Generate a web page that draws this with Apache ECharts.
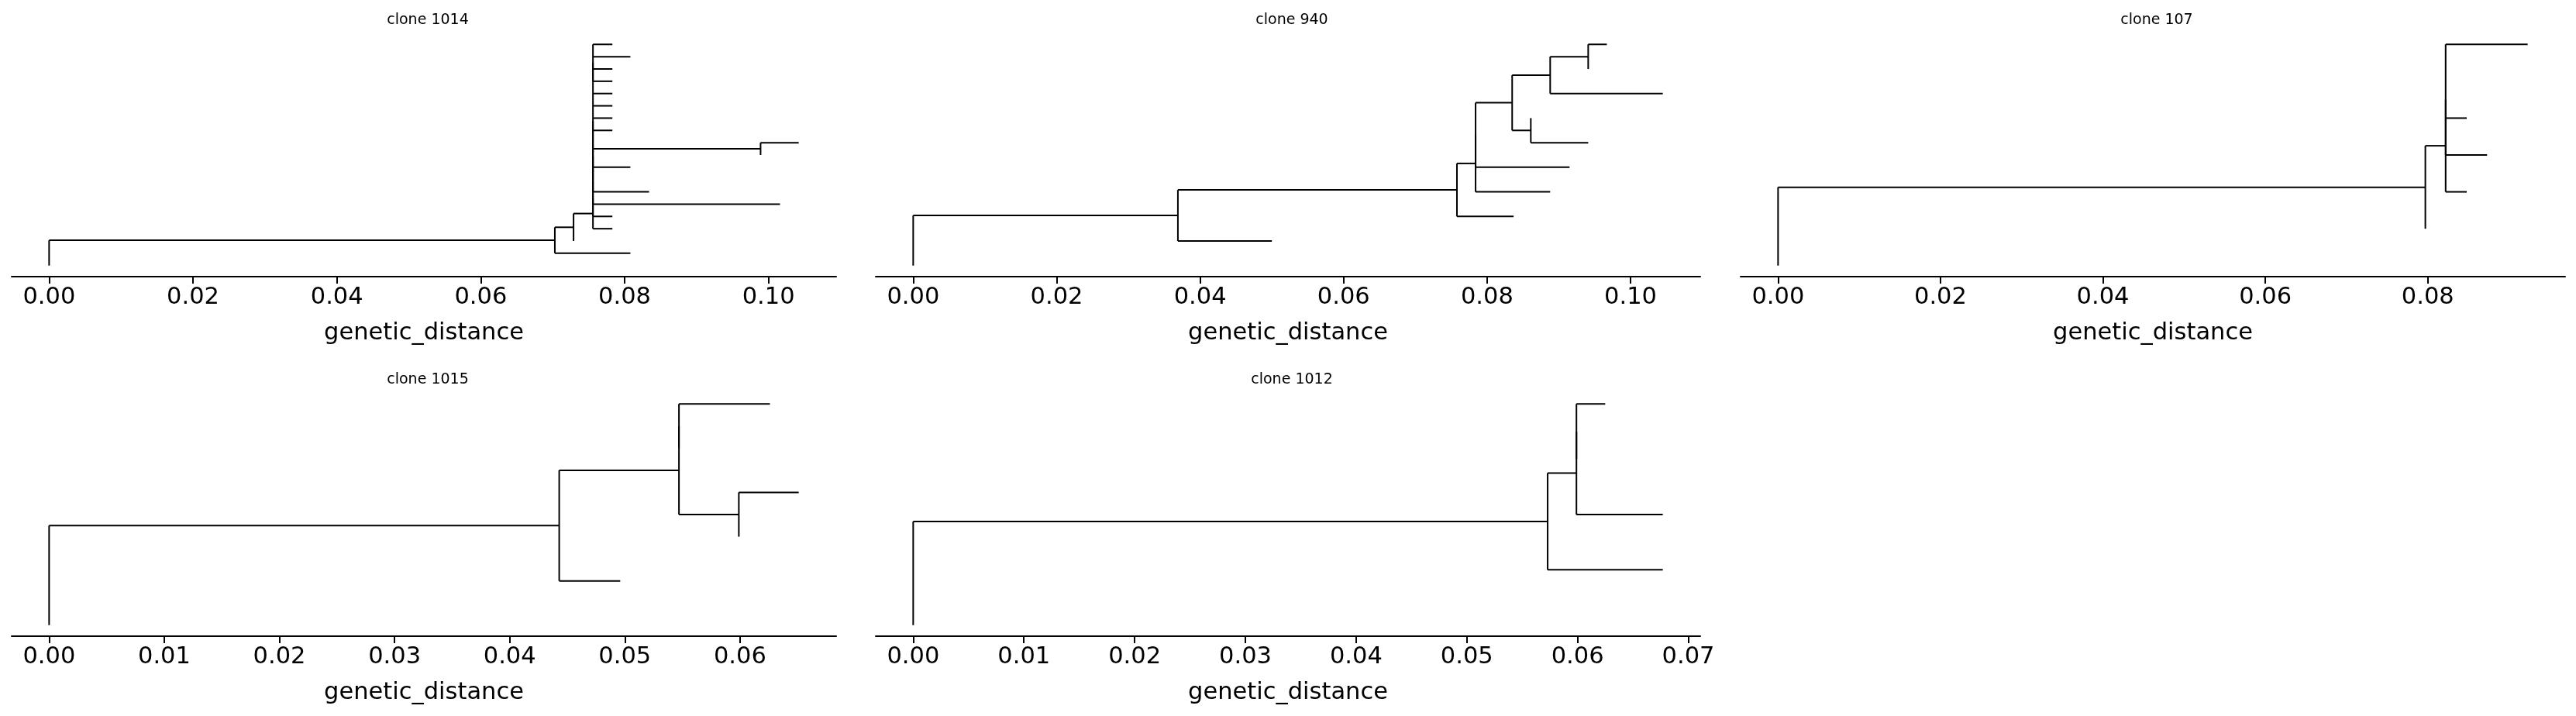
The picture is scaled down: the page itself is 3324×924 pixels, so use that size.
<!DOCTYPE html>
<html>
<head>
<meta charset="utf-8">
<title>clone trees</title>
<script src="https://cdn.jsdelivr.net/npm/echarts@6.0.0/dist/echarts.min.js"></script>
<style>
  html, body { margin: 0; padding: 0; background: #fff; }
  #main { width: 3324px; height: 924px; }
</style>
</head>
<body>
<div id="main"></div>
<script>
// one panel per clone, trees as newick (branch lengths = genetic distance)
const cloneTitles = ['clone 1014', 'clone 940', 'clone 107', 'clone 1015', 'clone 1012'];

const cloneTrees = [
  '(((((((((:0.0027,:0.0052,:0.0027,:0.0027):0,:0.0027,:0.0027,:0.0027,:0.0027,(:0.0053,:0):0.0233,:0.0052,:0):0,:0.0078):0,:0.0260):0,:0.0027):0,:0.0027):0.0027,:0):0.0026,:0.0105):0.0703,:0);',
  '((((((((:0.0026,:0):0.0053,:0.0157):0.0053,(:0,:0.0080):0.0026):0.0051,:0.0131):0,:0.0104):0.0026,:0.0079):0.0389,:0.0131):0.0369,:0);',
  '((((:0.0101,:0,:0.0026,:0.0051):0,:0.0026):0.0025,:0):0.0797,:0);',
  '((((:0.0079,:0):0,(:0.0052,:0):0.0052):0.0104,:0.0053):0.0443,:0);',
  '((((:0.0026,:0):0,:0.0078):0.0026,:0.0104):0.0573,:0);'
];

const tickValues = [
  [0, 0.02, 0.04, 0.06, 0.08, 0.10],
  [0, 0.02, 0.04, 0.06, 0.08, 0.10],
  [0, 0.02, 0.04, 0.06, 0.08],
  [0, 0.01, 0.02, 0.03, 0.04, 0.05, 0.06],
  [0, 0.01, 0.02, 0.03, 0.04, 0.05, 0.06, 0.07]
];

const xLabel = 'genetic_distance';

// panel boxes (3 columns x 2 rows, last one empty)
const colLeft = [15, 1130, 2246];
const rowTop = [43, 507];
const panelW = 1064;
const panelH = 314;
const FONT = '"DejaVu Sans", Verdana, sans-serif';

function parseNewick(s) {
  let i = 0;
  function node() {
    const n = { children: [], len: 0 };
    if (s[i] === '(') {
      i++;
      n.children.push(node());
      while (s[i] === ',') { i++; n.children.push(node()); }
      i++; // ')'
    }
    while (i < s.length && ':,);'.indexOf(s[i]) < 0) i++; // skip name
    if (s[i] === ':') {
      i++;
      const j = i;
      while (i < s.length && ',);'.indexOf(s[i]) < 0) i++;
      n.len = parseFloat(s.slice(j, i));
    }
    return n;
  }
  return node();
}

// rectangular layout: leaves 0..n-1 top to bottom, node y = middle of first/last child
function layoutTree(root) {
  let leaf = 0;
  let xmax = 0;
  const segs = [];
  function place(n, px) {
    n.x = px + n.len;
    xmax = Math.max(xmax, n.x);
    if (!n.children.length) {
      n.y = leaf++;
    } else {
      n.children.forEach(c => place(c, n.x));
      n.y = (n.children[0].y + n.children[n.children.length - 1].y) / 2;
    }
    if (n.len > 0) segs.push([px, n.y, n.x, n.y]);
    if (n.children.length > 1) {
      segs.push([n.x, n.children[0].y, n.x, n.children[n.children.length - 1].y]);
    }
  }
  place(root, 0);
  return { segs, xmax, yLast: leaf - 1 };
}

const grids = [], xAxes = [], yAxes = [], titles = [], series = [];

cloneTrees.forEach((nwk, k) => {
  const t = layoutTree(parseNewick(nwk));
  const left = colLeft[k % 3];
  const top = rowTop[Math.floor(k / 3)];

  grids.push({ left: left, top: top, width: panelW, height: panelH, containLabel: false });

  titles.push({
    text: cloneTitles[k],
    left: left + panelW / 2,
    top: top - 31,
    textAlign: 'center',
    textStyle: { fontFamily: FONT, fontSize: 19, fontWeight: 'normal', color: '#000' }
  });

  xAxes.push({
    gridIndex: k,
    type: 'value',
    min: -0.05 * t.xmax,
    max: 1.05 * t.xmax,
    name: xLabel,
    nameLocation: 'middle',
    nameGap: 58,
    nameTextStyle: { fontFamily: FONT, fontSize: 30.5, color: '#000' },
    axisLine: { onZero: false, lineStyle: { color: '#000', width: 2 } },
    axisTick: { show: true, length: 9, customValues: tickValues[k], lineStyle: { color: '#000', width: 2 } },
    axisLabel: {
      customValues: tickValues[k],
      margin: 12,
      fontFamily: FONT,
      fontSize: 30.5,
      color: '#000',
      formatter: v => v.toFixed(2)
    },
    splitLine: { show: false }
  });

  yAxes.push({
    gridIndex: k,
    type: 'value',
    inverse: true,
    min: -0.05 * t.yLast,
    max: 1.05 * t.yLast,
    show: false
  });

  series.push({
    type: 'custom',
    xAxisIndex: k,
    yAxisIndex: k,
    data: t.segs,
    encode: { x: [0, 2], y: [1, 3] },
    renderItem: (params, api) => {
      const p1 = api.coord([api.value(0), api.value(1)]);
      const p2 = api.coord([api.value(2), api.value(3)]);
      return {
        type: 'line',
        shape: { x1: p1[0], y1: p1[1], x2: p2[0], y2: p2[1] },
        style: { stroke: '#000', lineWidth: 2, lineCap: 'butt' }
      };
    }
  });
});

const myChart = echarts.init(document.getElementById('main'));
myChart.setOption({
  animation: false,
  backgroundColor: '#fff',
  title: titles,
  grid: grids,
  xAxis: xAxes,
  yAxis: yAxes,
  series: series
});
</script>
</body>
</html>
